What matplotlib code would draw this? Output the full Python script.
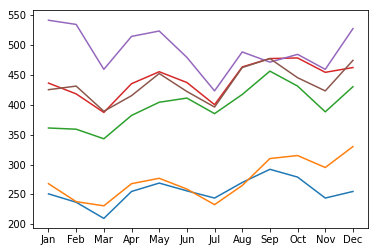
import matplotlib
matplotlib.use("Agg")
import matplotlib.pyplot as plt

months = ["Jan", "Feb", "Mar", "Apr", "May", "Jun", "Jul", "Aug", "Sep", "Oct", "Nov", "Dec"]
s_blue = [251, 237, 210, 255, 269, 256, 244, 270, 292, 279, 244, 255]
s_orange = [268, 238, 231, 268, 277, 259, 233, 265, 310, 315, 295, 330]
s_green = [361, 359, 343, 382, 404, 411, 385, 417, 456, 431, 388, 430]
s_red = [436, 418, 387, 435, 455, 437, 400, 463, 477, 478, 454, 462]
s_purple = [541, 534, 459, 514, 523, 479, 423, 488, 471, 484, 459, 527]
s_brown = [425, 431, 389, 415, 452, 422, 396, 462, 477, 445, 423, 474]

fig = plt.figure(figsize=(5.25, 3.5), dpi=72)
ax = fig.add_axes([0.088, 0.094, 0.886, 0.865])
x = list(range(len(months)))
for s, c in [(s_blue, "C0"), (s_orange, "C1"), (s_green, "C2"),
             (s_red, "C3"), (s_purple, "C4"), (s_brown, "C5")]:
    ax.plot(x, s, color=c, linewidth=1.5)
ax.set_xticks(x)
ax.set_xticklabels(months)
ax.set_yticks([200, 250, 300, 350, 400, 450, 500, 550])
fig.savefig("out.png", dpi=72)
